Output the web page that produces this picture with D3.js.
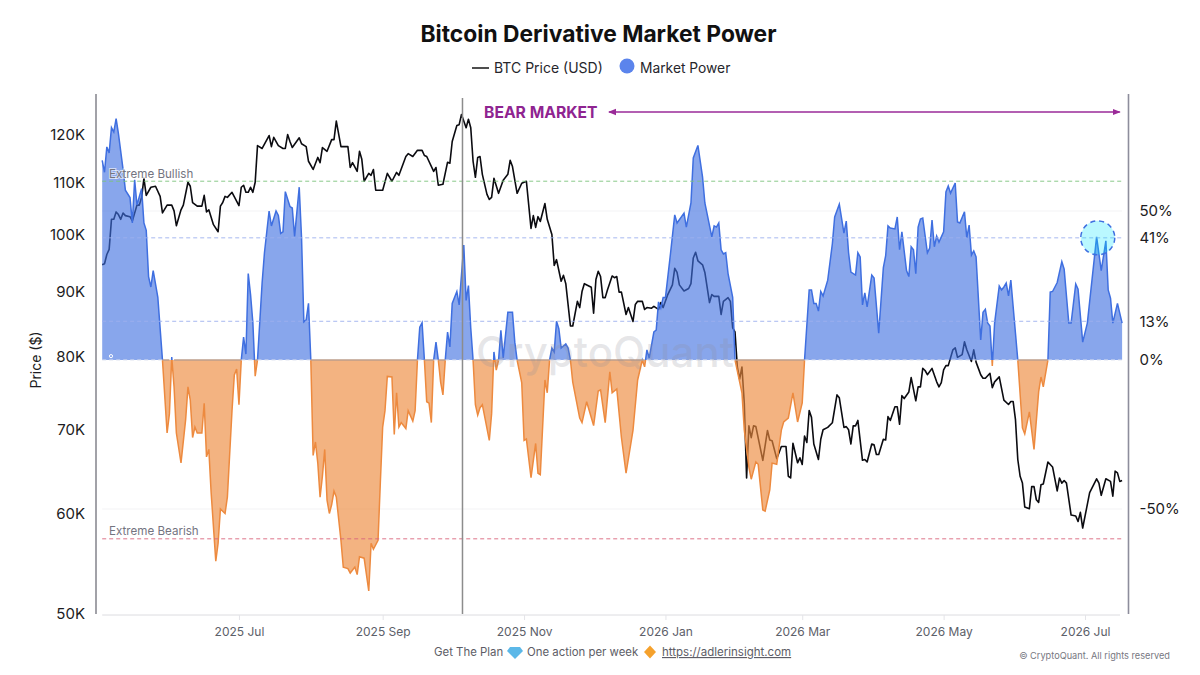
<!DOCTYPE html>
<html>
<head>
<meta charset="utf-8">
<script src="https://cdn.jsdelivr.net/npm/d3@7"></script>
<style>
  body { margin: 0; background: #fff; }
  text { font-family: Inter, "Noto Sans", sans-serif; }
</style>
</head>
<body>
<div id="chart"></div>
<script>
// days are counted from this first date of the series
const START_DATE = "2025-05-03";

const powerDays = [
  0,1,2,3,4,5,6,7,9,10,12,13,14,15,17,18,19,20,21,22,24,26,
  28,29,30,31,32,34,36,37,38,39,40,41,43,44,45,46,47,49,50,51,53,54,56,57,58,59,60,
  61,62,63,64,65,66,67,69,70,72,73,75,76,77,78,79,81,82,83,85,86,87,88,89,90,
  91,92,93,94,95,96,97,98,99,100,101,103,104,106,107,109,110,111,113,115,116,117,119,120,121,122,123,125,126,127,128,129,131,132,134,135,136,
  137,138,139,140,141,142,143,144,145,146,147,148,
  149,150,151,153,154,156,157,158,159,160,
  161,162,163,164,167,168,169,170,171,172,173,175,177,178,179,
  181,182,183,185,187,188,189,191,192,193,194,195,196,197,198,200,201,202,
  203,206,207,209,212,214,215,217,219,220,222,224,226,229,231,233,
  234,235,236,238,239,240,241,242,243,245,247,248,251,252,254,255,257,259,260,263,264,265,266,267,268,269,270,272,273,
  276,277,279,280,282,283,285,286,288,289,291,293,294,296,298,300,302,303,
  305,306,307,308,309,310,311,313,315,316,318,320,321,322,323,325,326,327,328,329,330,332,333,335,337,338,339,340,342,343,344,345,347,348,349,350,351,352,353,354,356,357,358,359,360,361,363,364,365,366,368,369,370,372,373,374,375,376,377,379,380,381,382,383,384,
  385,387,388,389,390,391,392,394,395,
  397,398,400,402,404,405,406,408,
  409,410,412,414,415,417,418,420,421,423,425,427,429,431,433,434,435,436,438,440
];
const powerPct = [
  67,63,71.5,69.5,78,76.5,81,76,64,57,54.5,46,60.5,52,57.5,46,43.5,28,24.5,30,21,0,
  -24.5,-18,1,-9,-24.5,-34.5,-20,-9,-13.5,-26,-22.5,-24.5,-24.5,-14.5,-32.5,-30,-44.5,-67.5,-61.5,-50,-51.5,-46,-17,-5,-3,-15,0,
  7.7,2,29,22,12.5,-5.4,0,26,36,50,45,50,48.5,42.5,43,56.5,51.5,51,41.5,58,41,12.8,13.5,19,0,
  -32,-27.5,-34.5,-46,-39,-30,-47,-51.5,-48.5,-44,-46,-60.5,-69.5,-70,-71.5,-69.5,-72,-66,-66.5,-77.5,-61.5,-63.5,-60.5,-41,-22.5,-17,-5.5,-5.7,-25,-11,-22.5,-21,-23,-17,-20.5,-17,0,
  11,12.5,0,-14,-14.5,-21,0,6,0,-7.4,-11.7,0,
  9.4,4.4,19,23,18.5,38.6,20,25,10.7,0,
  -15,-18.5,-16,-15,-27,-18,2.7,-3.4,0,10,0.7,16,16,6,0,
  -7.7,-27,-26.5,-39.5,-28,-38,-38.5,-6.7,-11,0,4,2.7,13,10.5,4,5.4,4,0,
  -7.4,-19.5,-21,-14,-22,-10.4,-10,-21,-4,-11,-9.7,-26,-38,-23.5,-6.7,0,
  -2.3,3.4,0.7,9.4,10,19.5,17.5,21,21,34.5,48.7,46,49.3,44.6,52.7,67.8,72,61.4,52.7,41.3,45,44.6,46,37,35.6,36,29,21,0,
  -11,-23.5,-36,-40,-34.2,-35,-50.3,-50.7,-43.6,-34.6,-35,-23.5,-20.8,-19.5,-11,-20.8,-14.4,0,
  23.5,23.5,19,19,16.4,23,21.5,26.8,39,48,52.3,42.6,46.6,36,29.5,28.5,36,34.6,18.5,22.5,17.8,28.5,27.5,9,31,35,45,44.3,44,48,37,43,30,28,38,37,29,44.6,47.3,47.6,36,37.6,47,38,41.6,39.6,43,56.4,58.4,56,59.4,46.3,46,49.7,41,45.3,35.2,36.6,34.6,6.7,16,17,12.4,11.4,-2,
  12.4,24.8,23.5,24.5,25.8,21.5,26.8,9,0,
  -22.8,-24.8,-17.4,-30,-10.7,-5.7,-9,0,
  22.8,23,26,33,30.5,12.4,12.4,25.5,23.8,6,12.4,26.8,41.3,30,40,23.5,20.8,12.4,19,12.4
];

const priceDays = [
  0,1,2,3,4,5,6,7,8,9,10,12,13,15,16,17,18,19,21,23,25,26,28,30,31,32,34,35,37,38,39,41,43,44,45,46,48,50,51,52,53,54,56,59,
  60,61,62,63,64,65,66,67,69,72,73,74,76,78,79,80,81,82,85,86,88,89,91,93,94,95,97,99,100,101,103,106,107,108,110,111,112,113,115,116,117,118,121,123,125,127,128,131,132,134,136,138,139,140,
  143,144,145,147,149,150,151,153,154,155,157,158,159,160,161,162,163,164,166,167,168,169,171,173,175,176,177,179,181,183,185,186,187,188,189,191,192,194,195,196,198,199,200,202,203,205,206,207,208,211,212,213,214,215,216,217,218,220,221,222,223,224,226,227,229,230,231,233,234,235,237,238,240,241,242,244,246,247,248,249,251,253,254,255,256,257,259,260,262,263,264,266,267,268,270,271,272,273,274,275,276,277,278,279,280,281,282,
  285,287,288,289,291,293,295,296,297,298,300,301,302,303,304,305,306,307,309,310,311,313,315,317,318,320,321,322,323,324,325,326,328,329,330,332,333,334,335,337,338,339,340,342,343,344,345,346,348,349,351,352,353,354,355,356,358,360,361,362,363,364,365,367,368,369,371,372,373,375,376,377,378,379,380,381,383,384,385,387,389,391,392,393,394,395,396,397,398,400,401,402,403,404,405,406,408,410,412,413,414,415,416,418,420,421,422,423,426,429,430,431,433,435,436,437,438,439,440
];
const priceK = [
  94.6,94.8,96.4,97.3,102.8,102.8,104.2,103.7,102.8,104,103.5,103.3,102.5,105.5,105.5,107,110.8,107.4,109,109.2,107.2,104,105.5,105.5,104.4,101.6,104.6,105.5,110,109.2,106,105.3,105.3,107.4,104.2,104.6,101.8,100.5,105.3,106,107.2,107,108,105.4,
  109,109.4,108,108,109,108,110,117.6,117,119.8,117.4,119.4,117.6,117,117,120,118.5,117.2,119.3,118,117.4,114.3,112.6,115.1,114,117.2,116.4,118.9,118.9,123,117.4,117.4,113,114,112.2,116.4,114.7,110.2,111.8,111.4,112.6,108.4,108.4,111.8,110.2,112,111.4,115.3,115.9,115.3,116.6,116.6,115.5,115.3,
  112.2,113,109.4,109.6,114.1,113.9,118.5,122,122.2,124.5,121.5,123.4,121.5,114.3,111,115.1,115.3,111.6,107.6,106.6,107,110.8,107.8,110.4,111.6,114.5,113.2,107.8,109.8,110.2,101.1,103.5,101.3,103.3,102.4,105.8,102.8,100,94.5,95.5,91.8,92.8,91.4,84.6,84.6,88.5,87.5,90.1,91.4,90.8,86.6,92.1,93.5,92.6,89.1,89.1,90.4,92.7,92.4,92.6,90,90,86.4,87.5,85.3,88,88.5,88.5,87.2,87.5,87.4,87.7,87.2,88.3,87.5,89.6,91.2,94,93.3,91.2,90.2,90.6,91.4,95.8,96.8,95.3,94.6,93.3,88.3,89.6,89.3,89.3,86.4,88.5,89.1,88.5,84.3,83.7,78.5,76.8,78.5,73.5,64.1,70.5,69,70.5,70.4,
  66.2,69.9,68.7,68.6,66.4,67.9,67.9,64.3,64.1,68.3,65.9,66.5,65.7,69.2,68.4,72.5,71.6,68.2,66.3,68.8,70,70.3,70.9,74.6,74.2,70.3,70.4,70,68.2,70.5,70.5,71.2,66.2,66.3,66,68.2,68.1,66.9,66.9,68.8,68.7,71.7,71.2,73,73,70.7,74.5,74.1,75,77,73.8,75.7,75.7,78.3,78,77.4,78.3,76.4,75.7,76.3,78.1,78.7,78.7,81,81.3,79.9,80.3,82.2,81,79.3,81,79.2,78.3,77.4,76.9,76.9,77.6,75.6,76.4,77.1,73.9,73.3,73.7,73.7,71.3,66.3,64.3,63.5,60.8,60.6,63.1,63.1,61.6,61.3,63.3,63.4,66,65.4,62.6,64.1,63.5,63.8,63.5,59.9,59.8,59.2,60.2,58.5,62.4,64,63.5,62.1,64,63.7,62,64.9,64.7,63.7,63.8
];

const priceTicks = [50, 60, 70, 80, 90, 100, 110, 120];
const powerTicks = [50, 41, 13, 0, -50];
const monthTicks = ["2025-07-01", "2025-09-01", "2025-11-01", "2026-01-01", "2026-03-01", "2026-05-01", "2026-07-01"];
const EXTREME_BULL = 60, EXTREME_BEAR = -60;
const MARKET_TOP_DAY = 155;
const BEAR_END_DAY = 439;
const SIGNAL_DAY = 429.5, SIGNAL_PCT = 41;

const W = 1200, H = 675;
const PLOT = { top: 95, bottom: 614, left: 102.2, right: 1122.1 };

const parseDay = d3.utcParse("%Y-%m-%d");
const dayToDate = d => new Date(+parseDay(START_DATE) + d * 864e5);

const x = d3.scaleUtc().domain([dayToDate(0), dayToDate(440)]).range([PLOT.left, PLOT.right]);
const yPrice = d3.scaleLog().domain([50, 129]).range([PLOT.bottom, PLOT.top]);
const yPower = d3.scaleLinear().domain([-85.23, 88.93]).range([PLOT.bottom, PLOT.top]);

const powerRows = powerDays.map((d, i) => ({ date: dayToDate(d), p: powerPct[i] }));
const priceRows = priceDays.map((d, i) => ({ date: dayToDate(d), k: priceK[i] }));

const svg = d3.select("#chart").append("svg").attr("width", W).attr("height", H);

const defs = svg.append("defs");
defs.append("clipPath").attr("id", "clip-pos").append("rect")
  .attr("x", 0).attr("y", 0).attr("width", W).attr("height", yPower(0));
defs.append("clipPath").attr("id", "clip-neg").append("rect")
  .attr("x", 0).attr("y", yPower(0)).attr("width", W).attr("height", H);
const ARROW = "#9a2a98";
defs.append("marker").attr("id", "arrow")
  .attr("viewBox", "0 0 8 8").attr("refX", 7).attr("refY", 4)
  .attr("markerWidth", 8).attr("markerHeight", 8).attr("markerUnits", "userSpaceOnUse")
  .attr("orient", "auto-start-reverse")
  .append("path").attr("d", "M0,0.8L8,4L0,7.2Z").attr("fill", ARROW);

// Faint grid at +/-50%
[50, -50].forEach(v => {
  svg.append("line").attr("x1", PLOT.left).attr("x2", PLOT.right)
    .attr("y1", yPower(v)).attr("y2", yPower(v))
    .attr("stroke", "#f3f3f5").attr("stroke-width", 1);
});

// Price goes under the areas, it gets tinted by them in the reference
const priceLine = d3.line().x(d => x(d.date)).y(d => yPrice(d.k));
svg.append("path").datum(priceRows)
  .attr("d", priceLine)
  .attr("fill", "none").attr("stroke", "#0b0b10").attr("stroke-width", 1.6).attr("stroke-linejoin", "round");

// Market power areas
const powerArea = d3.area().x(d => x(d.date)).y0(yPower(0)).y1(d => yPower(d.p));
const powerLine = d3.line().x(d => x(d.date)).y(d => yPower(d.p));

svg.append("path").datum(powerRows).attr("d", powerArea)
  .attr("clip-path", "url(#clip-pos)").attr("fill", "#3f6fe0").attr("fill-opacity", 0.62);
svg.append("path").datum(powerRows).attr("d", powerLine)
  .attr("clip-path", "url(#clip-pos)").attr("fill", "none").attr("stroke", "#3f6fe0").attr("stroke-width", 1.5);
svg.append("path").datum(powerRows).attr("d", powerArea)
  .attr("clip-path", "url(#clip-neg)").attr("fill", "#ec8a3e").attr("fill-opacity", 0.65);
svg.append("path").datum(powerRows).attr("d", powerLine)
  .attr("clip-path", "url(#clip-neg)").attr("fill", "none").attr("stroke", "#ed8a3f").attr("stroke-width", 1.5);

// Zero line: grey over the orange runs, white dashes under the blue runs
svg.append("path").datum(powerRows)
  .attr("d", d3.line().defined(d => d.p <= 0).x(d => x(d.date)).y(yPower(0)))
  .attr("fill", "none").attr("stroke", "#bd9f8c").attr("stroke-width", 1.5);
svg.append("path").datum(powerRows)
  .attr("d", d3.line().defined(d => d.p >= 0).x(d => x(d.date)).y(yPower(0)))
  .attr("fill", "none").attr("stroke", "#dfe3f0").attr("stroke-width", 1.2).attr("stroke-dasharray", "4 3");

// Reference levels
[
  { v: EXTREME_BULL, c: "#7cc27c" },
  { v: 41, c: "#9db0ee" },
  { v: 13, c: "#9db0ee" },
  { v: EXTREME_BEAR, c: "#d9657c" }
].forEach(l => {
  svg.append("line").attr("x1", PLOT.left).attr("x2", PLOT.right)
    .attr("y1", yPower(l.v)).attr("y2", yPower(l.v))
    .attr("stroke", l.c).attr("stroke-width", 0.9).attr("stroke-dasharray", "4 3");
});

[["Extreme Bullish", EXTREME_BULL], ["Extreme Bearish", EXTREME_BEAR]].forEach(([label, v]) => {
  svg.append("text").attr("x", 109).attr("y", yPower(v) - 3.5)
    .style("font-size", "11.6px").style("fill", "#74747f")
    .style("paint-order", "stroke").style("stroke", "#fff").style("stroke-width", 2).style("stroke-opacity", 0.6)
    .text(label);
});

svg.append("circle").attr("cx", x(dayToDate(3.8))).attr("cy", yPower(1.3)).attr("r", 1.6)
  .attr("fill", "none").attr("stroke", "#fff").attr("stroke-width", 1);

// Watermark
svg.append("text").attr("x", 605).attr("y", 367).attr("text-anchor", "middle")
  .style("font-size", "42px").style("font-weight", 500).style("fill", "#8e8e9a").style("fill-opacity", 0.22)
  .text("CryptoQuant");

// Highlighted signal
svg.append("circle")
  .attr("cx", x(dayToDate(SIGNAL_DAY))).attr("cy", yPower(SIGNAL_PCT)).attr("r", 17)
  .attr("fill", "#00e5ff").attr("fill-opacity", 0.27)
  .attr("stroke", "#3f6fe0").attr("stroke-width", 1.5).attr("stroke-dasharray", "5 4");

// Frame lines
svg.append("line").attr("x1", 96).attr("x2", 96).attr("y1", 94).attr("y2", PLOT.bottom)
  .attr("stroke", "#a2a2a8").attr("stroke-width", 2);
svg.append("line").attr("x1", 1128.5).attr("x2", 1128.5).attr("y1", 94).attr("y2", PLOT.bottom)
  .attr("stroke", "#8d8d9c").attr("stroke-width", 1.6);
svg.append("line")
  .attr("x1", x(dayToDate(MARKET_TOP_DAY)) + 1).attr("x2", x(dayToDate(MARKET_TOP_DAY)) + 1)
  .attr("y1", 98).attr("y2", PLOT.bottom)
  .attr("stroke", "#8c8c8c").attr("stroke-width", 1.5);

// Axes
const xAxis = d3.axisBottom(x)
  .tickValues(monthTicks.map(parseDay))
  .tickFormat(d3.utcFormat("%Y %b"))
  .tickSize(5).tickPadding(7);
const gx = svg.append("g").attr("transform", `translate(0,${PLOT.bottom + 1})`).call(xAxis);
gx.select(".domain").attr("stroke", "#dcdce0").attr("d", `M${PLOT.left},0H1120`);
gx.selectAll(".tick line").attr("stroke", "#e4e4e8");
gx.selectAll("text").style("font-size", "12px").style("fill", "#5c6069").style("font-family", "Inter");

const yAxisL = d3.axisLeft(yPrice).tickValues(priceTicks).tickFormat(d => d + "K").tickSize(0).tickPadding(11);
const gl = svg.append("g").attr("transform", "translate(96,0)").call(yAxisL);
gl.select(".domain").remove();
gl.selectAll("text").style("font-size", "15px").style("fill", "#1c1c22").style("font-family", "Inter");

const yAxisR = d3.axisRight(yPower).tickValues(powerTicks).tickFormat(d => d + "%").tickSize(0).tickPadding(11);
const gr = svg.append("g").attr("transform", "translate(1128.5,0)").call(yAxisR);
gr.select(".domain").remove();
gr.selectAll("text").style("font-size", "15px").style("fill", "#1c1c22").style("font-family", "Inter");

svg.append("text").attr("transform", "translate(41,360) rotate(-90)").attr("text-anchor", "middle")
  .style("font-size", "14px").style("fill", "#1c1c22").text("Price ($)");

// Title and legend
svg.append("text").attr("x", 598.5).attr("y", 42).attr("text-anchor", "middle")
  .style("font-size", "22.8px").style("font-weight", 700).style("fill", "#111").text("Bitcoin Derivative Market Power");

svg.append("line").attr("x1", 472).attr("x2", 489).attr("y1", 68).attr("y2", 68)
  .attr("stroke", "#222").attr("stroke-width", 1.6);
svg.append("text").attr("x", 494).attr("y", 73).style("font-size", "14px").style("fill", "#26262c").text("BTC Price (USD)");
svg.append("circle").attr("cx", 627).attr("cy", 66).attr("r", 7.5).attr("fill", "#5b84ec");
svg.append("text").attr("x", 640).attr("y", 73).style("font-size", "13.8px").style("fill", "#26262c").text("Market Power");

// Bear market annotation
svg.append("text").attr("x", 484).attr("y", 117.5)
  .style("font-size", "15.7px").style("font-weight", 700).style("fill", "#8f2491").text("BEAR MARKET");
svg.append("line")
  .attr("x1", 609).attr("x2", x(dayToDate(BEAR_END_DAY)))
  .attr("y1", 112).attr("y2", 112)
  .attr("stroke", ARROW).attr("stroke-width", 1.4)
  .attr("marker-start", "url(#arrow)").attr("marker-end", "url(#arrow)");

// Footer
const footStyle = s => s.style("font-size", "11.4px").style("fill", "#5d5d66");
svg.append("text").attr("x", 434).attr("y", 656).call(footStyle).text("Get The Plan");
svg.append("path").attr("d", "M510,647H520L523,651L515,659L507,651Z").attr("fill", "#5cb8e8");
svg.append("text").attr("x", 527).attr("y", 656).call(footStyle).text("One action per week");
svg.append("path").attr("d", "M650,645.5L656,652L650,658.5L644,652Z").attr("fill", "#f5a12c");
svg.append("text").attr("x", 662).attr("y", 656).call(footStyle).style("font-size", "11.5px")
  .style("text-decoration", "underline").text("https://adlerinsight.com");
svg.append("text").attr("x", 1170).attr("y", 659).attr("text-anchor", "end")
  .style("font-size", "9.2px").style("fill", "#77777f").text("© CryptoQuant. All rights reserved");
</script>
</body>
</html>
